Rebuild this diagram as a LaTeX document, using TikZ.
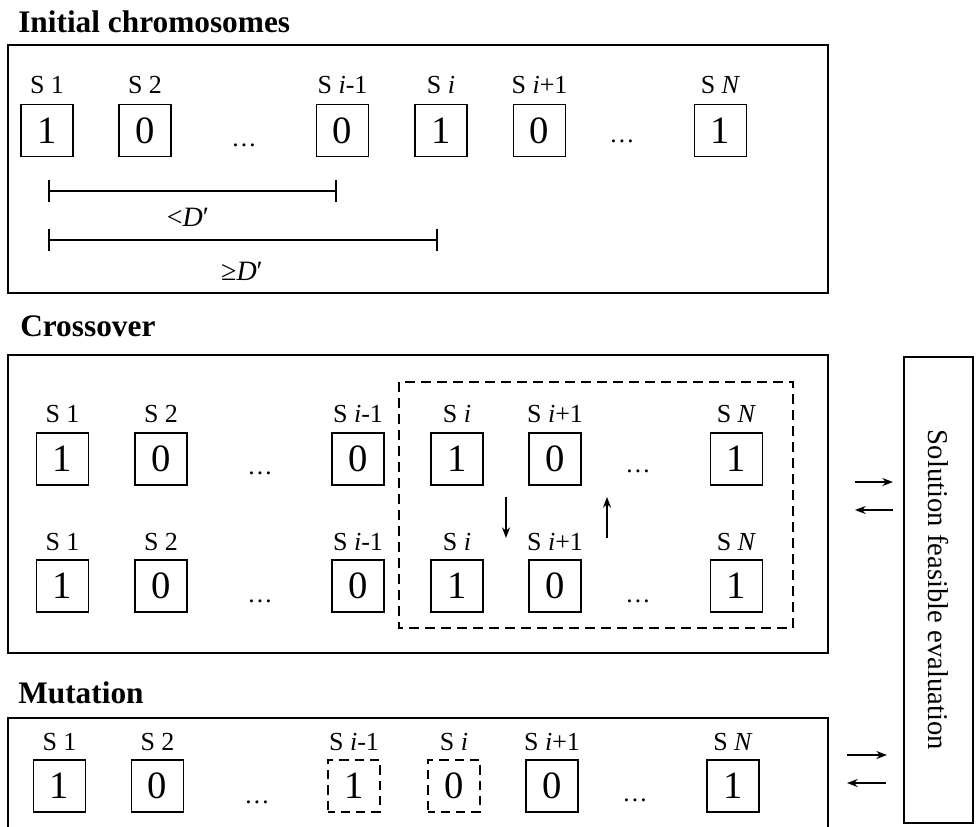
\documentclass[tikz,border=0pt]{standalone}
\usepackage{fontspec}
\setmainfont{Liberation Serif}
\usetikzlibrary{arrows.meta}

\tikzset{
  frame/.style={draw, line width=1.5pt},
  cell/.style={draw, line width=1.4pt, minimum size=39pt, inner sep=0pt,
    font=\fontsize{29}{29}\selectfont},
  dcell/.style={cell, dash pattern=on 7pt off 4.5pt, dash phase=2pt},
  lbl/.style={anchor=base, inner sep=0pt, font=\fontsize{19.5}{19.5}\selectfont},
  dotsn/.style={anchor=base, inner sep=0pt, font=\fontsize{19}{19}\selectfont},
  heading/.style={anchor=base west, inner sep=0pt, font=\fontsize{23.5}{23.5}\selectfont\bfseries},
  measure/.style={line width=1.3pt, {Bar[width=17pt,line width=1.3pt]}-{Bar[width=17pt,line width=1.3pt]}},
  dlabel/.style={inner sep=0pt, font=\fontsize{21}{21}\selectfont},
  flow/.style={line width=1.1pt, -{Stealth[length=8pt,width=6pt]}},
  region/.style={draw, line width=1.4pt, dash pattern=on 7.5pt off 4.5pt}
}

\begin{document}
\begin{tikzpicture}[x=0.75pt, y=-0.75pt]
\useasboundingbox (0,0) rectangle (977,826);
\clip (0,0) rectangle (977,826);

% ---------------- initial chromosomes ----------------
\node[heading] (t1) at (18,32) {Initial chromosomes};
\draw[frame] (8,45) rectangle (828,293);
\foreach \n/\x/\v/\t in {1/47/1/{S 1}, 2/145/0/{S 2}, 4/342.5/0/{S \textit{i}-1},
    5/441/1/{S \textit{i}}, 6/539.5/0/{S \textit{i}+1}, 8/720.5/1/{S \textit{N}}}{
  \node[cell] (i\n) at (\x,130.5) {\v};
  \node[lbl] (il\n) at (\x,93) {\t};
}
\node[dotsn] (i3) at (244,146) {\ldots};
\node[dotsn] (i7) at (622,142) {\ldots};

\coordinate (ma1) at (48,191);
\coordinate (mb1) at (337,191);
\coordinate (ma2) at (48,240);
\coordinate (mb2) at (438,240);
\draw[measure] (ma1) -- (mb1);
\draw[measure] (ma2) -- (mb2);
\node[dlabel] (lt) at (188,217) {<\textit{D}\char"2032};
\node[dlabel] (ge) at (242,271) {≥\textit{D}\char"2032};

% ---------------- crossover ----------------
\node[heading] (t2) at (20,336) {Crossover};
\draw[frame] (8,355) rectangle (828,653);
\draw[region] (399,382) rectangle (793,628);
\foreach \n/\x/\v/\t in {1/62.5/1/{S 1}, 2/161/0/{S 2}, 4/358/0/{S \textit{i}-1},
    5/457/1/{S \textit{i}}, 6/555/0/{S \textit{i}+1}, 8/736.5/1/{S \textit{N}}}{
  \node[cell] (a\n) at (\x,459) {\v};
  \node[lbl] (al\n) at (\x,422) {\t};
  \node[cell] (b\n) at (\x,586) {\v};
  \node[lbl] (bl\n) at (\x,550) {\t};
}
\node[dotsn] (a3) at (260,474) {\ldots};
\node[dotsn] (a7) at (638,472) {\ldots};
\node[dotsn] (b3) at (260,602) {\ldots};
\node[dotsn] (b7) at (638,602) {\ldots};

\coordinate (sw1) at (506,497);
\coordinate (sw2) at (506,538);
\coordinate (sw3) at (607,538);
\coordinate (sw4) at (607,497);
\draw[flow] (sw1) -- (sw2);
\draw[flow] (sw3) -- (sw4);

% ---------------- mutation ----------------
\node[heading] (t3) at (18,703) {Mutation};
\draw[frame] (8,840) -- (8,718) -- (828,718) -- (828,840);
\foreach \n/\x/\v/\t/\s in {1/59.5/1/{S 1}/cell, 2/157.5/0/{S 2}/cell,
    4/354/1/{S \textit{i}-1}/dcell, 5/454/0/{S \textit{i}}/dcell,
    6/552/0/{S \textit{i}+1}/cell, 8/733/1/{S \textit{N}}/cell}{
  \node[\s] (m\n) at (\x,786) {\v};
  \node[lbl] (ml\n) at (\x,750) {\t};
}
\node[dotsn] (m3) at (257,803) {\ldots};
\node[dotsn] (m7) at (635,801) {\ldots};

% ---------------- evaluation ----------------
\node[draw, line width=1.4pt, rotate=-90, minimum width=349.5pt, minimum height=51.75pt,
  inner sep=0pt, font=\fontsize{21.5}{21.5}\selectfont] (eval) at (938.5,590)
  {Solution feasible evaluation};

\coordinate (ca) at (855,482);
\coordinate (cb) at (893,482);
\coordinate (cc) at (893,510);
\coordinate (cd) at (855,510);
\draw[flow] (ca) -- (cb);
\draw[flow] (cc) -- (cd);

\coordinate (ua) at (847,755);
\coordinate (ub) at (887,755);
\coordinate (uc) at (886,783);
\coordinate (ud) at (847,783);
\draw[flow] (ua) -- (ub);
\draw[flow] (uc) -- (ud);
\end{tikzpicture}
\end{document}
